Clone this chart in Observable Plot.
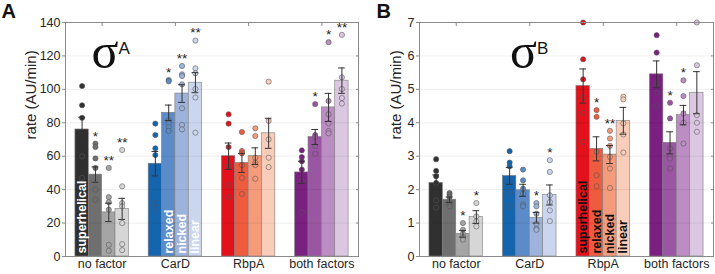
<!DOCTYPE html>
<html><head><meta charset="utf-8">
<script src="https://cdn.jsdelivr.net/npm/d3@7"></script>
<script src="https://cdn.jsdelivr.net/npm/@observablehq/plot@0.6"></script>
<style>
body{margin:0;background:#fff;}
#wrap{position:relative;width:715px;height:274px;overflow:hidden;}
#wrap svg{position:absolute;top:0;overflow:visible;}
</style></head><body><div id="wrap"></div>
<script>
const groups = ["no factor", "CarD", "RbpA", "both factors"];
const shapes = ["superhelical", "relaxed", "nicked", "linear"];
const colors = [
  ["#303030", "#6f6f6f", "#a5a5a5", "#d6d6d6"],
  ["#1565ae", "#5b8bc9", "#9db3dc", "#cbd6ee"],
  ["#e2111b", "#ee5b3e", "#f59b7b", "#f9cdb9"],
  ["#7a2081", "#9b56a3", "#bb8dc3", "#dbc7e2"]
];

// Panel A (sigma A)
const yTicksA = [0, 20, 40, 60, 80, 100, 120, 140];
const meansA = [[76, 49, 26.4, 28.5], [55.5, 86, 97.5, 104], [60, 56, 60, 73.7], [50.3, 71.5, 89.2, 105.2]];
const semA = [[7.3, 4.6, 5.5, 6.3], [7.3, 4.6, 5.3, 6], [7.9, 5.7, 5, 9], [6.7, 4.5, 8.4, 7.6]];
const dotsA = [
  [[102, 90.5, 83, 60, 47], [67.5, 65.5, 58.7, 53, 40, 34], [53, 35.5, 32.5, 28, 7, 3.4], [63.7, 42, 32, 30, 20, 7.4, 3.8]],
  [[79.5, 72.7, 64.7, 60.7, 32, 29], [105.6, 104.8, 81.5, 79.5, 77.5, 75.1], [114, 109, 108, 103, 88.7, 78.7, 76], [129.2, 112.6, 109.6, 100.2, 95.1, 74.1]],
  [[85.1, 79.5, 65.5, 54.1, 42.7, 35.6], [74.5, 63.1, 61.7, 54.7, 47, 37.4], [76.7, 72.1, 59.1, 56.1, 54.7, 46.5], [104.6, 81.1, 70.1, 59.1, 53.5]],
  [[63.5, 59.5, 57, 52, 45, 26.4], [91.2, 72.7, 71.5, 66.1, 61.5], [128.2, 93.1, 85.1, 79.7, 75.1, 73.7], [132.6, 107.2, 100.2, 94.8, 91.5]]
];
const starsA = [["", "*", "**", "**"], ["", "*", "**", "**"], ["", "", "", ""], ["", "*", "*", "**"]];
const labelsA = [["no factor", "superhelical"], ["CarD", "relaxed"], ["CarD", "nicked"], ["CarD", "linear"]];

// Panel B (sigma B)
const yTicksB = [0, 1, 2, 3, 4, 5, 6, 7];
const meansB = [[2.2, 1.7, 0.68, 1.18], [2.41, 1.98, 1.16, 1.84], [5.1, 3.22, 3.05, 4.06], [5.45, 3.4, 4.23, 4.9]];
const semB = [[0.24, 0.08, 0.1, 0.19], [0.25, 0.18, 0.16, 0.3], [0.51, 0.36, 0.27, 0.4], [0.4, 0.33, 0.29, 0.63]];
const dotsB = [
  [[2.91, 2.56, 2.4, 2.2, 1.68, 1.46], [1.9, 1.85, 1.78, 1.65, 1.55, 1.5], [1.0, 0.8, 0.68, 0.58, 0.5], [1.6, 1.2, 1.05, 0.9]],
  [[3.15, 2.81, 2.7, 2.23, 1.93, 1.51], [2.6, 2.28, 2.03, 1.88, 1.56, 1.5], [1.6, 1.5, 1.28, 0.98, 0.83, 0.8], [2.88, 2.53, 1.83, 1.63, 1.38, 1.06]],
  [[7.0, 5.9, 5.3, 4.75, 4.3, 3.43], [4.38, 4.18, 3.13, 2.43, 2.1], [3.76, 3.53, 3.31, 2.98, 2.63, 2.05], [4.78, 4.7, 3.98, 3.65, 3.11]],
  [[6.62, 6.1, 5.17, 4.9, 4.5], [4.6, 4.13, 3.23, 3.0, 2.93, 2.63], [5.27, 4.8, 4.28, 4.0, 3.38], [7.0, 5.72, 4.23, 4.0, 3.73]]
];
const starsB = [["", "", "*", "*"], ["", "", "*", "*"], ["", "*", "**", ""], ["", "*", "*", ""]];
const labelsB = [["RbpA", "superhelical"], ["RbpA", "relaxed"], ["RbpA", "nicked"], ["RbpA", "linear"]];

const FONT = "Liberation Sans, Arial, Helvetica, sans-serif";
const BW = 13.4 / 73.5;   // bar width in group units
const CAP = 0.046;        // half width of error caps
const center = d => d.gi + 0.5 + (d.si - 1.5) * BW;

function panel(o) {
  const bars = [], pts = [];
  groups.forEach((g, gi) => shapes.forEach((s, si) => {
    const m = o.means[gi][si], e = o.sem[gi][si];
    bars.push({gi, si, mean: m, lo: m - e, hi: m + e, color: colors[gi][si],
      star: o.stars[gi][si], top: Math.max(...o.dots[gi][si])});
    o.dots[gi][si].forEach(v => pts.push({gi, si, v, color: colors[gi][si]}));
  }));
  const lab = o.labels.map(([g, s]) => ({gi: groups.indexOf(g), si: shapes.indexOf(s), text: s}));
  const one = [0];
  return Plot.plot({
    width: o.width, height: 274,
    marginLeft: o.marginLeft, marginRight: 2, marginTop: 22, marginBottom: 18,
    style: {fontFamily: FONT, color: "#262626", background: "transparent", overflow: "visible"},
    x: {type: "linear", domain: [0, 4]},
    y: {domain: o.yDomain},
    color: {type: "identity"},
    marks: [
      Plot.rectY(bars, {x1: d => center(d) - BW / 2, x2: d => center(d) + BW / 2, y: "mean", fill: "color", stroke: "#7d7d7d", strokeWidth: 0.6}),
      Plot.gridY(o.yTicks, {stroke: "#000", strokeOpacity: 0.07}),
      Plot.dot(pts, {x: center, y: "v", r: 2.6, fill: "color", stroke: "#555", strokeOpacity: 0.7, strokeWidth: 0.8}),
      Plot.ruleX(bars, {x: center, y1: "lo", y2: "hi", stroke: "#333", strokeWidth: 1}),
      Plot.ruleY(bars, {y: "hi", x1: d => center(d) - CAP, x2: d => center(d) + CAP, stroke: "#333", strokeWidth: 1}),
      Plot.ruleY(bars, {y: "lo", x1: d => center(d) - CAP, x2: d => center(d) + CAP, stroke: "#333", strokeWidth: 1}),
      Plot.text(bars.filter(d => d.star), {x: center, y: "top", text: "star", dy: -7.5, fontSize: 13.5, fill: "#222"}),
      Plot.text(lab, {x: center, y: () => 0, text: "text", rotate: -90, textAnchor: "start", dy: -3, fill: o.labelFill, fontWeight: "bold", fontSize: 12.5}),
      Plot.frame({stroke: "#8a8a8a"}),
      Plot.axisY({ticks: o.yTicks, tickFormat: d => String(d), tickSize: 3, tickPadding: 2, fontSize: 12.5, label: null, stroke: "#8a8a8a", fill: "#262626"}),
      Plot.axisY({anchor: "right", ticks: o.yTicks, tickSize: -3, label: null, stroke: "#8a8a8a", fill: "none"}),
      Plot.axisX({ticks: [0.5, 1.5, 2.5, 3.5], tickFormat: d => groups[Math.floor(d)], tickSize: 0, tickPadding: 3, fontSize: 12.5, label: null, fill: "#262626"}),
      Plot.axisX({anchor: "top", ticks: [0.5, 1.5, 2.5, 3.5], tickSize: -3, label: null, stroke: "#8a8a8a", fill: "none"}),
      Plot.text(one, {frameAnchor: "left", dx: o.labelDx, text: () => "rate (AU/min)", rotate: -90, fontSize: 15, fill: "#262626"}),
      Plot.text(one, {frameAnchor: "top-left", dx: o.sigmaDx, dy: 45, text: () => "σ", fontSize: 50, fontFamily: "Liberation Serif, DejaVu Serif, serif", textAnchor: "start", lineAnchor: "bottom", fill: "#111"}),
      Plot.text(one, {frameAnchor: "top-left", dx: o.sigmaDx + 27, dy: 31.5, text: () => o.sup, fontSize: 17, textAnchor: "start", lineAnchor: "bottom", fill: "#111"}),
      Plot.text(one, {frameAnchor: "top-left", dx: o.letterDx, dy: -5, text: () => o.letter, fontSize: 20, fontWeight: "bold", textAnchor: "start", lineAnchor: "bottom", fill: "#111"})
    ]
  });
}

const wrap = document.getElementById("wrap");
const a = panel({means: meansA, sem: semA, dots: dotsA, stars: starsA, labels: labelsA, labelFill: "white",
  yDomain: [0, 140], yTicks: yTicksA, letter: "A", sup: "A", width: 360, marginLeft: 65,
  labelDx: -34, sigmaDx: 26, letterDx: -64});
a.style.left = "0px";
wrap.appendChild(a);
const b = panel({means: meansB, sem: semB, dots: dotsB, stars: starsB, labels: labelsB, labelFill: "#111",
  yDomain: [0, 7], yTicks: yTicksB, letter: "B", sup: "B", width: 355, marginLeft: 59,
  labelDx: -23, sigmaDx: 90.5, letterDx: -43});
b.style.left = "360px";
wrap.appendChild(b);
</script></body></html>
